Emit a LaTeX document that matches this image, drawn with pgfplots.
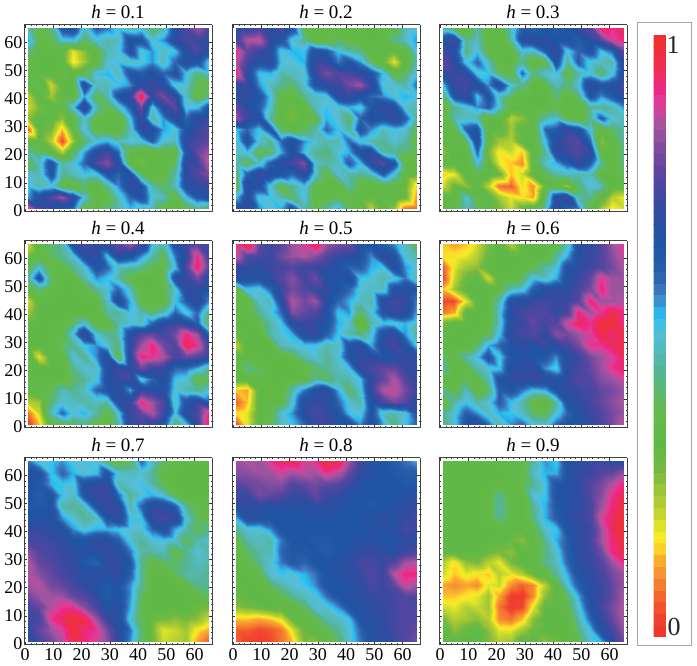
\documentclass[border=0pt]{standalone}
\usepackage{pgfplots}
\usepackage{pgfplotstable}
\usepackage{fontspec}
\setmainfont{Liberation Serif}
\pgfplotsset{compat=1.18}
\pgfplotstableset{row sep=\\,header=false}
\pgfplotstableread{
47\\38\\42\\66\\68\\48\\62\\58\\50\\46\\50\\40\\46\\68\\76\\84\\74\\
55\\36\\38\\50\\52\\40\\50\\46\\48\\68\\66\\50\\56\\70\\74\\72\\70\\
42\\33\\34\\33\\18\\26\\34\\47\\50\\68\\50\\56\\48\\52\\68\\76\\68\\
36\\33\\33\\33\\16\\24\\33\\50\\52\\48\\50\\56\\47\\60\\70\\66\\50\\
33\\33\\33\\30\\33\\36\\52\\54\\48\\66\\62\\68\\60\\66\\52\\42\\50\\
33\\40\\20\\33\\33\\70\\48\\47\\52\\56\\70\\72\\68\\50\\50\\38\\36\\
22\\33\\24\\33\\33\\55\\38\\46\\66\\72\\98\\72\\80\\70\\48\\34\\42\\
20\\28\\33\\33\\52\\72\\47\\38\\48\\62\\80\\50\\68\\78\\50\\52\\66\\
26\\33\\33\\26\\36\\50\\36\\33\\30\\52\\72\\44\\56\\70\\60\\70\\72\\
6\\33\\28\\14\\33\\52\\34\\33\\33\\48\\70\\68\\55\\50\\66\\72\\76\\
33\\33\\22\\4\\24\\40\\50\\54\\48\\52\\50\\62\\50\\48\\70\\74\\78\\
47\\40\\33\\22\\40\\55\\68\\74\\60\\33\\33\\30\\33\\33\\66\\78\\84\\
38\\48\\68\\46\\50\\60\\76\\82\\70\\33\\28\\33\\33\\40\\72\\72\\88\\
50\\47\\66\\44\\48\\52\\50\\66\\60\\68\\40\\33\\36\\46\\70\\76\\82\\
52\\47\\50\\36\\33\\40\\33\\44\\56\\72\\66\\46\\40\\48\\68\\70\\72\\
55\\68\\76\\84\\70\\50\\34\\36\\48\\60\\68\\50\\48\\36\\52\\64\\68\\
92\\72\\70\\64\\60\\36\\33\\42\\46\\54\\48\\47\\36\\30\\38\\44\\40\\
}\tabA
\pgfplotstableread{
68\\70\\74\\70\\76\\66\\36\\34\\36\\33\\34\\30\\33\\36\\36\\48\\50\\
72\\86\\88\\72\\66\\50\\44\\34\\33\\40\\36\\33\\33\\34\\44\\48\\56\\
92\\78\\72\\68\\50\\54\\52\\68\\64\\52\\46\\44\\33\\36\\30\\34\\52\\
86\\74\\66\\70\\52\\50\\54\\72\\72\\58\\66\\56\\40\\30\\18\\33\\46\\
92\\70\\52\\54\\46\\48\\50\\72\\80\\76\\74\\70\\66\\52\\36\\40\\52\\
70\\72\\56\\48\\44\\40\\50\\66\\70\\72\\80\\84\\72\\50\\50\\46\\60\\
68\\70\\66\\52\\36\\33\\44\\48\\50\\70\\72\\66\\60\\56\\50\\54\\52\\
78\\70\\62\\50\\33\\30\\33\\48\\52\\50\\54\\50\\64\\72\\68\\50\\46\\
84\\72\\68\\44\\33\\28\\33\\36\\54\\50\\40\\60\\70\\66\\72\\62\\44\\
52\\60\\52\\66\\38\\33\\38\\46\\60\\52\\44\\66\\56\\48\\52\\50\\36\\
48\\68\\50\\44\\60\\70\\56\\50\\46\\47\\60\\50\\46\\44\\50\\46\\34\\
50\\52\\36\\40\\54\\68\\52\\44\\42\\50\\54\\68\\70\\46\\44\\40\\38\\
46\\38\\48\\62\\72\\74\\82\\50\\46\\48\\62\\52\\70\\78\\66\\36\\34\\
40\\62\\74\\70\\66\\60\\70\\50\\36\\50\\46\\44\\48\\62\\50\\33\\30\\
36\\72\\68\\50\\36\\44\\52\\36\\33\\33\\46\\36\\33\\36\\33\\30\\14\\
52\\70\\50\\52\\46\\40\\52\\33\\34\\38\\36\\33\\30\\33\\34\\30\\10\\
68\\72\\56\\50\\54\\66\\46\\36\\44\\54\\40\\36\\22\\33\\26\\8\\6\\
}\tabB
\pgfplotstableread{
46\\38\\33\\46\\36\\33\\48\\62\\60\\66\\62\\66\\72\\76\\94\\90\\96\\
68\\74\\44\\48\\33\\30\\46\\68\\72\\70\\66\\68\\62\\70\\76\\88\\92\\
74\\68\\42\\52\\36\\33\\34\\50\\48\\62\\72\\50\\60\\66\\52\\60\\78\\
78\\70\\50\\60\\48\\33\\33\\44\\33\\36\\68\\44\\62\\50\\48\\46\\74\\
70\\72\\70\\50\\52\\40\\36\\60\\42\\50\\52\\36\\46\\50\\40\\50\\72\\
52\\72\\74\\70\\56\\70\\50\\44\\33\\36\\48\\42\\50\\72\\66\\68\\76\\
40\\66\\72\\52\\66\\48\\40\\33\\33\\33\\42\\33\\42\\66\\56\\64\\70\\
34\\44\\50\\56\\62\\50\\33\\33\\33\\33\\38\\33\\30\\44\\44\\46\\56\\
33\\46\\48\\46\\33\\33\\22\\26\\33\\46\\50\\36\\33\\44\\62\\50\\48\\
33\\36\\62\\66\\33\\33\\24\\33\\33\\60\\62\\72\\66\\50\\33\\40\\46\\
33\\33\\40\\70\\33\\24\\22\\33\\33\\52\\70\\74\\76\\60\\26\\33\\46\\
26\\33\\33\\60\\28\\16\\20\\14\\33\\44\\70\\72\\76\\72\\33\\33\\44\\
33\\33\\33\\50\\33\\18\\14\\10\\33\\50\\54\\62\\72\\62\\44\\33\\44\\
14\\18\\33\\36\\33\\30\\14\\20\\33\\38\\46\\48\\46\\48\\33\\33\\40\\
20\\30\\26\\33\\22\\8\\6\\18\\10\\30\\33\\24\\40\\52\\48\\33\\33\\
33\\33\\50\\36\\33\\24\\18\\16\\12\\40\\70\\74\\46\\44\\33\\22\\18\\
33\\36\\48\\40\\33\\28\\20\\30\\33\\48\\72\\62\\58\\36\\24\\16\\20\\
}\tabC
\pgfplotstableread{
20\\36\\40\\46\\70\\74\\72\\72\\78\\84\\74\\52\\46\\68\\72\\76\\72\\
28\\34\\40\\44\\50\\68\\70\\52\\70\\66\\56\\46\\38\\58\\70\\92\\72\\
36\\50\\36\\36\\44\\50\\66\\60\\48\\46\\44\\36\\36\\52\\76\\94\\76\\
46\\66\\40\\33\\33\\46\\56\\52\\46\\36\\33\\33\\36\\68\\72\\80\\66\\
34\\42\\34\\33\\33\\36\\44\\50\\60\\48\\34\\33\\36\\50\\70\\68\\66\\
20\\33\\33\\33\\33\\33\\33\\48\\70\\54\\36\\33\\33\\52\\62\\72\\56\\
24\\33\\33\\33\\33\\33\\33\\46\\44\\52\\46\\40\\46\\60\\50\\60\\42\\
33\\33\\33\\33\\40\\50\\36\\34\\46\\50\\48\\60\\70\\72\\68\\62\\36\\
33\\33\\33\\36\\52\\74\\50\\44\\46\\68\\76\\78\\74\\80\\92\\84\\60\\
33\\33\\33\\40\\44\\52\\56\\50\\42\\70\\84\\92\\80\\76\\96\\90\\72\\
36\\18\\33\\34\\50\\44\\56\\70\\36\\70\\92\\90\\86\\74\\78\\76\\70\\
33\\33\\33\\33\\44\\50\\48\\68\\72\\70\\80\\72\\72\\60\\60\\54\\44\\
33\\33\\33\\33\\40\\44\\50\\68\\72\\74\\50\\60\\70\\52\\50\\36\\36\\
33\\36\\38\\48\\44\\48\\60\\66\\70\\54\\72\\70\\68\\50\\46\\44\\50\\
22\\24\\42\\50\\48\\46\\48\\46\\68\\72\\92\\84\\76\\48\\66\\72\\62\\
8\\20\\48\\60\\50\\54\\46\\36\\50\\72\\78\\86\\74\\52\\70\\74\\92\\
2\\14\\36\\38\\40\\44\\36\\34\\46\\72\\74\\70\\66\\40\\52\\72\\96\\
}\tabD
\pgfplotstableread{
90\\98\\78\\72\\76\\84\\88\\96\\84\\80\\80\\68\\66\\62\\56\\48\\36\\
88\\76\\74\\72\\80\\84\\86\\82\\76\\72\\70\\66\\56\\70\\66\\50\\46\\
72\\70\\68\\72\\74\\76\\72\\72\\70\\66\\60\\62\\54\\52\\70\\56\\50\\
68\\68\\66\\70\\76\\82\\74\\80\\68\\66\\70\\52\\50\\46\\50\\58\\46\\
36\\52\\50\\60\\72\\80\\76\\72\\70\\66\\60\\50\\48\\48\\68\\70\\64\\
33\\34\\50\\48\\68\\86\\80\\84\\70\\60\\54\\48\\46\\70\\74\\72\\56\\
33\\36\\44\\50\\60\\82\\78\\76\\68\\52\\56\\40\\50\\66\\72\\70\\54\\
33\\33\\36\\46\\52\\68\\72\\70\\66\\54\\50\\28\\46\\52\\50\\54\\48\\
30\\33\\33\\46\\50\\54\\70\\72\\62\\52\\46\\42\\50\\68\\72\\56\\44\\
22\\33\\33\\33\\48\\50\\52\\52\\46\\48\\66\\70\\54\\70\\74\\66\\50\\
33\\33\\33\\33\\33\\36\\46\\50\\44\\50\\66\\70\\70\\66\\68\\72\\70\\
33\\44\\40\\33\\33\\33\\36\\40\\44\\48\\52\\72\\74\\78\\78\\72\\70\\
33\\33\\33\\33\\33\\33\\33\\44\\40\\46\\46\\52\\70\\78\\86\\76\\70\\
14\\12\\33\\30\\33\\46\\58\\68\\72\\54\\40\\50\\72\\86\\88\\80\\72\\
6\\14\\33\\33\\36\\50\\70\\72\\70\\60\\50\\46\\68\\74\\80\\76\\68\\
16\\18\\33\\36\\50\\56\\70\\74\\72\\66\\52\\50\\66\\48\\46\\50\\66\\
4\\18\\33\\40\\48\\52\\60\\72\\72\\66\\68\\56\\70\\54\\42\\52\\62\\
}\tabE
\pgfplotstableread{
14\\12\\14\\20\\28\\33\\22\\33\\33\\33\\36\\48\\68\\70\\76\\84\\90\\
16\\16\\18\\22\\30\\33\\33\\33\\33\\33\\44\\54\\68\\72\\76\\82\\88\\
6\\18\\24\\26\\33\\33\\33\\33\\38\\46\\50\\66\\70\\72\\76\\80\\86\\
4\\20\\30\\33\\20\\33\\33\\40\\52\\48\\54\\68\\72\\78\\90\\84\\84\\
14\\24\\33\\33\\33\\34\\48\\50\\62\\68\\70\\70\\74\\80\\92\\84\\84\\
4\\4\\18\\33\\33\\46\\68\\70\\72\\74\\72\\72\\76\\92\\84\\84\\86\\
8\\12\\33\\33\\33\\50\\70\\74\\76\\76\\70\\74\\92\\84\\90\\96\\92\\
30\\33\\33\\33\\36\\48\\70\\72\\78\\74\\76\\88\\94\\90\\98\\98\\90\\
33\\33\\33\\33\\38\\52\\72\\74\\76\\70\\82\\80\\84\\88\\96\\92\\96\\
33\\33\\33\\40\\54\\60\\66\\70\\68\\72\\70\\74\\80\\90\\90\\94\\96\\
42\\36\\46\\52\\66\\50\\66\\68\\66\\64\\56\\68\\72\\80\\84\\88\\94\\
46\\33\\36\\46\\50\\52\\70\\68\\72\\56\\50\\70\\74\\78\\84\\90\\94\\
33\\33\\38\\36\\46\\66\\70\\72\\72\\70\\66\\72\\76\\76\\82\\84\\88\\
44\\36\\48\\33\\40\\62\\66\\58\\52\\54\\66\\70\\72\\74\\78\\80\\84\\
33\\46\\52\\46\\50\\62\\52\\46\\36\\30\\46\\66\\70\\74\\78\\82\\86\\
44\\50\\62\\56\\48\\54\\52\\48\\40\\38\\50\\60\\68\\72\\76\\80\\84\\
42\\50\\66\\72\\60\\46\\56\\60\\50\\48\\60\\66\\68\\70\\74\\80\\88\\
}\tabF
\pgfplotstableread{
58\\50\\52\\56\\50\\52\\50\\40\\36\\40\\60\\48\\40\\36\\33\\33\\33\\
70\\66\\52\\60\\54\\50\\52\\66\\50\\48\\50\\44\\36\\33\\33\\33\\33\\
70\\64\\54\\52\\50\\68\\72\\72\\46\\50\\52\\46\\38\\33\\33\\33\\33\\
66\\62\\66\\52\\48\\66\\72\\72\\60\\44\\50\\54\\50\\38\\33\\33\\33\\
64\\64\\66\\46\\44\\48\\66\\72\\70\\46\\60\\70\\70\\62\\44\\36\\33\\
66\\68\\68\\56\\50\\44\\48\\66\\72\\52\\52\\72\\74\\72\\50\\40\\34\\
72\\72\\68\\68\\56\\50\\54\\54\\52\\50\\50\\60\\68\\54\\46\\38\\44\\
74\\74\\72\\70\\66\\66\\70\\70\\62\\50\\44\\50\\52\\50\\38\\46\\50\\
82\\76\\74\\72\\70\\68\\70\\70\\70\\58\\46\\46\\48\\36\\44\\50\\46\\
86\\78\\76\\72\\72\\64\\60\\70\\70\\64\\44\\36\\40\\40\\44\\48\\46\\
86\\82\\78\\74\\72\\68\\70\\70\\72\\62\\44\\33\\33\\40\\46\\46\\44\\
84\\86\\80\\78\\74\\70\\68\\64\\66\\56\\44\\33\\33\\33\\36\\44\\44\\
80\\84\\84\\84\\78\\76\\70\\62\\68\\56\\40\\33\\33\\33\\33\\34\\40\\
74\\78\\86\\90\\90\\82\\74\\68\\70\\54\\38\\33\\33\\33\\33\\30\\28\\
72\\74\\90\\94\\98\\96\\84\\72\\70\\50\\38\\30\\28\\26\\28\\26\\20\\
70\\78\\84\\88\\98\\92\\90\\80\\70\\58\\42\\28\\18\\20\\24\\16\\12\\
68\\74\\80\\86\\96\\92\\88\\82\\70\\56\\40\\30\\20\\22\\24\\12\\6\\
}\tabG
\pgfplotstableread{
84\\86\\84\\90\\94\\96\\88\\90\\98\\96\\84\\72\\68\\66\\62\\58\\54\\
82\\82\\84\\84\\88\\84\\86\\84\\90\\86\\78\\70\\68\\66\\64\\62\\62\\
76\\78\\80\\82\\82\\76\\78\\80\\78\\76\\72\\68\\66\\66\\66\\64\\64\\
74\\72\\80\\78\\76\\72\\72\\78\\72\\72\\68\\66\\66\\66\\66\\68\\68\\
68\\70\\70\\68\\68\\68\\68\\70\\70\\68\\66\\66\\64\\66\\68\\70\\72\\
54\\68\\66\\66\\66\\66\\66\\66\\66\\66\\66\\66\\68\\70\\68\\72\\74\\
44\\50\\50\\56\\66\\66\\66\\66\\66\\66\\66\\66\\68\\68\\68\\74\\72\\
36\\46\\48\\46\\58\\66\\66\\64\\64\\66\\66\\68\\68\\66\\68\\70\\68\\
36\\40\\46\\46\\60\\64\\64\\66\\62\\66\\68\\70\\72\\70\\68\\72\\74\\
33\\36\\44\\50\\58\\64\\60\\66\\66\\68\\70\\74\\74\\72\\76\\84\\86\\
33\\33\\36\\50\\52\\50\\54\\58\\66\\68\\68\\72\\76\\72\\86\\92\\92\\
30\\33\\33\\40\\46\\50\\52\\56\\66\\66\\68\\70\\74\\72\\78\\88\\84\\
30\\33\\33\\33\\38\\44\\48\\50\\58\\66\\68\\68\\72\\72\\74\\76\\76\\
26\\28\\30\\33\\33\\33\\40\\50\\50\\56\\66\\68\\70\\72\\74\\76\\74\\
14\\14\\12\\14\\18\\30\\33\\38\\46\\48\\52\\66\\68\\70\\74\\76\\76\\
6\\6\\4\\5\\8\\18\\30\\33\\38\\44\\50\\60\\68\\70\\74\\76\\78\\
6\\3\\2\\4\\8\\14\\28\\26\\33\\40\\50\\58\\66\\70\\72\\76\\80\\
}\tabH
\pgfplotstableread{
33\\33\\33\\33\\33\\33\\33\\34\\46\\56\\52\\68\\70\\72\\72\\68\\66\\
33\\33\\33\\33\\33\\33\\36\\36\\48\\54\\54\\66\\70\\72\\76\\78\\84\\
33\\33\\33\\33\\33\\33\\33\\38\\44\\52\\66\\68\\70\\76\\80\\86\\92\\
33\\33\\33\\33\\34\\44\\36\\33\\50\\52\\66\\68\\70\\76\\82\\90\\96\\
33\\33\\33\\33\\36\\46\\36\\33\\44\\54\\64\\68\\70\\74\\84\\92\\98\\
33\\33\\33\\33\\36\\44\\36\\33\\42\\54\\62\\68\\72\\74\\88\\94\\98\\
33\\33\\33\\33\\33\\34\\33\\33\\36\\50\\52\\66\\70\\72\\84\\94\\98\\
33\\33\\33\\33\\33\\33\\30\\26\\33\\44\\54\\62\\70\\74\\84\\92\\98\\
33\\33\\33\\33\\30\\28\\26\\33\\33\\42\\50\\62\\70\\72\\80\\92\\96\\
22\\16\\26\\28\\22\\18\\28\\33\\33\\44\\48\\60\\68\\72\\76\\84\\92\\
20\\14\\18\\16\\14\\22\\18\\22\\30\\33\\44\\54\\66\\70\\74\\80\\84\\
12\\10\\12\\10\\18\\20\\10\\6\\10\\22\\33\\50\\62\\68\\72\\78\\84\\
14\\14\\16\\18\\24\\12\\2\\2\\10\\26\\33\\40\\54\\68\\72\\78\\86\\
20\\18\\22\\20\\24\\8\\2\\4\\18\\33\\33\\38\\50\\66\\74\\80\\86\\
28\\22\\24\\26\\22\\10\\8\\14\\26\\33\\33\\33\\46\\60\\70\\78\\86\\
33\\26\\30\\33\\26\\18\\18\\24\\30\\33\\33\\33\\42\\52\\68\\74\\84\\
33\\33\\33\\33\\28\\22\\24\\33\\33\\26\\30\\33\\38\\50\\54\\70\\80\\
}\tabI
\pgfplotsset{
 colormap={hmap}{
  rgb255(0pt)=(238,50,45) rgb255(4pt)=(240,70,45) rgb255(7pt)=(243,105,45) rgb255(10pt)=(245,140,50)
  rgb255(13pt)=(250,175,45) rgb255(15pt)=(255,215,40) rgb255(17pt)=(245,235,40) rgb255(19pt)=(215,225,40)
  rgb255(21pt)=(190,210,50) rgb255(25pt)=(150,195,55) rgb255(28pt)=(115,185,65) rgb255(32pt)=(95,185,70)
  rgb255(38pt)=(100,185,75) rgb255(41pt)=(90,185,110) rgb255(44pt)=(85,180,145) rgb255(47pt)=(85,185,180)
  rgb255(51pt)=(85,190,220) rgb255(53pt)=(40,195,240) rgb255(55pt)=(50,165,225) rgb255(56.5pt)=(65,130,195)
  rgb255(58.5pt)=(55,110,185) rgb255(61pt)=(40,95,170) rgb255(65.5pt)=(30,85,165) rgb255(71pt)=(50,75,160)
  rgb255(76.5pt)=(85,70,160) rgb255(81pt)=(125,75,160) rgb255(85pt)=(165,85,160) rgb255(89pt)=(225,60,150)
  rgb255(91pt)=(235,40,135) rgb255(95pt)=(238,45,80) rgb255(100pt)=(238,50,40)
 },
 panel/.style={
  scale only axis,width=188pt,height=187pt,anchor=south west,
  xmin=-0.4,xmax=66.2,ymin=-0.4,ymax=66.2,
  xtick={0,10,...,60},ytick={0,10,...,60},minor x tick num=4,minor y tick num=4,
  tick pos=both,tick align=inside,major tick length=3pt,minor tick length=1.5pt,
  tick style={color=black!80,line width=0.5pt},
  axis line style={color=black!75,line width=1pt},
  axis on top,view={0}{90},
  point meta min=0,point meta max=100,
  /pgf/number format/assume math mode=true,
  tick label style={font=\fontsize{18}{18}\selectfont},
  yticklabel style={xshift=2pt},
  title style={font=\fontsize{19}{19}\selectfont,at={(0.5,1)},anchor=south,yshift=-3pt},
  clip=true,
 },
 noxl/.style={xticklabels={}},
 noyl/.style={yticklabels={}},
}
\newcommand{\cell}[5][]{%
 \begin{axis}[panel,at={(#2pt,#3pt)},title={\textit{h} = #4},#1]
 \addplot3[surf,shader=interp,point meta=explicit,mesh/cols=17]
  table[x index=0,y index=0,z index=0,x expr={1+4*floor(mod(\coordindex+0.25,17))},y expr={65-4*floor((\coordindex+0.5)/17)},z expr=0,meta index=0]{#5};
 \end{axis}}
\begin{document}
\begin{tikzpicture}[x=1pt,y=1pt]
\path[use as bounding box] (0,0) rectangle (697,666);
\draw[color=black!35,line width=0.8pt,fill=white] (637.5,21) rectangle (691.5,644);
\node[font=\fontsize{26}{26}\selectfont,text=black!85] at (673,621) {1};
\node[font=\fontsize{26}{26}\selectfont,text=black!85] at (674,39) {0};
\cell[noxl]{24}{454}{0.1}{\tabA}
\cell[noxl,noyl]{232}{454}{0.2}{\tabB}
\cell[noxl,noyl]{439}{454}{0.3}{\tabC}
\cell[noxl]{24}{238}{0.4}{\tabD}
\cell[noxl,noyl]{232}{238}{0.5}{\tabE}
\cell[noxl,noyl]{439}{238}{0.6}{\tabF}
\cell{24}{21}{0.7}{\tabG}
\cell[noyl]{232}{21}{0.8}{\tabH}
\cell[noyl,colorbar sampled,colorbar style={at={(parent axis.south east)},anchor=south west,xshift=18pt,yshift=8pt,width=13pt,height=602pt,samples=52,ytick=\empty,xtick=\empty,minor y tick num=0,minor x tick num=0,axis line style={draw=none},title={}}]{439}{21}{0.9}{\tabI}
\end{tikzpicture}
\end{document}
